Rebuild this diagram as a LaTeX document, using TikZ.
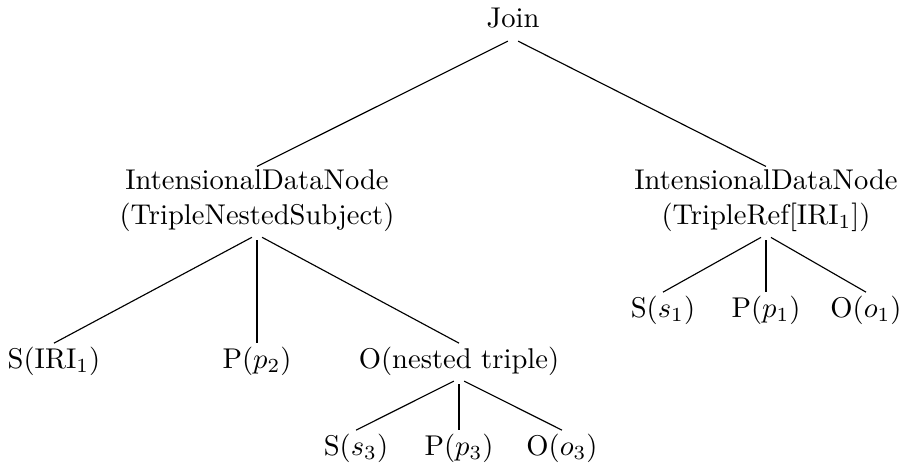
\documentclass[tikz,border=0pt]{standalone}
\usepackage{amsmath}

\begin{document}
\begin{tikzpicture}[x=0.35pt, y=-0.35pt,
    tnode/.style={anchor=base, inner sep=1pt, text depth=2.5pt, align=center},
    tedge/.style={shorten <=2pt}]
    \useasboundingbox (0,0) rectangle (905,468);
    \node[tnode] (join) at (513,28) {Join};
    \node[tnode] (idnL) at (257,224) {IntensionalDataNode\\(TripleNestedSubject)};
    \node[tnode] (idnR) at (766,224) {IntensionalDataNode\\(TripleRef[IRI$_1$])};
    \node[tnode] (sIRI) at (54,368) {S(IRI$_1$)};
    \node[tnode] (pP2) at (257,368) {P($p_2$)};
    \node[tnode] (oNest) at (459,368) {O(nested triple)};
    \node[tnode] (sS3) at (356,455) {S($s_3$)};
    \node[tnode] (pP3) at (459,455) {P($p_3$)};
    \node[tnode] (oO3) at (562,455) {O($o_3$)};
    \node[tnode] (sS1) at (663,317) {S($s_1$)};
    \node[tnode] (pP1) at (766,317) {P($p_1$)};
    \node[tnode] (oO1) at (866,317) {O($o_1$)};
    \draw[tedge] (join.south) -- (idnL.north);
    \draw[tedge] (join.south) -- (idnR.north);
    \draw[tedge] (idnL.south) -- (sIRI.north);
    \draw[tedge] (idnL.south) -- (pP2.north);
    \draw[tedge] (idnL.south) -- (oNest.north);
    \draw[tedge] (oNest.south) -- (sS3.north);
    \draw[tedge] (oNest.south) -- (pP3.north);
    \draw[tedge] (oNest.south) -- (oO3.north);
    \draw[tedge] (idnR.south) -- (sS1.north);
    \draw[tedge] (idnR.south) -- (pP1.north);
    \draw[tedge] (idnR.south) -- (oO1.north);
\end{tikzpicture}
\end{document}
